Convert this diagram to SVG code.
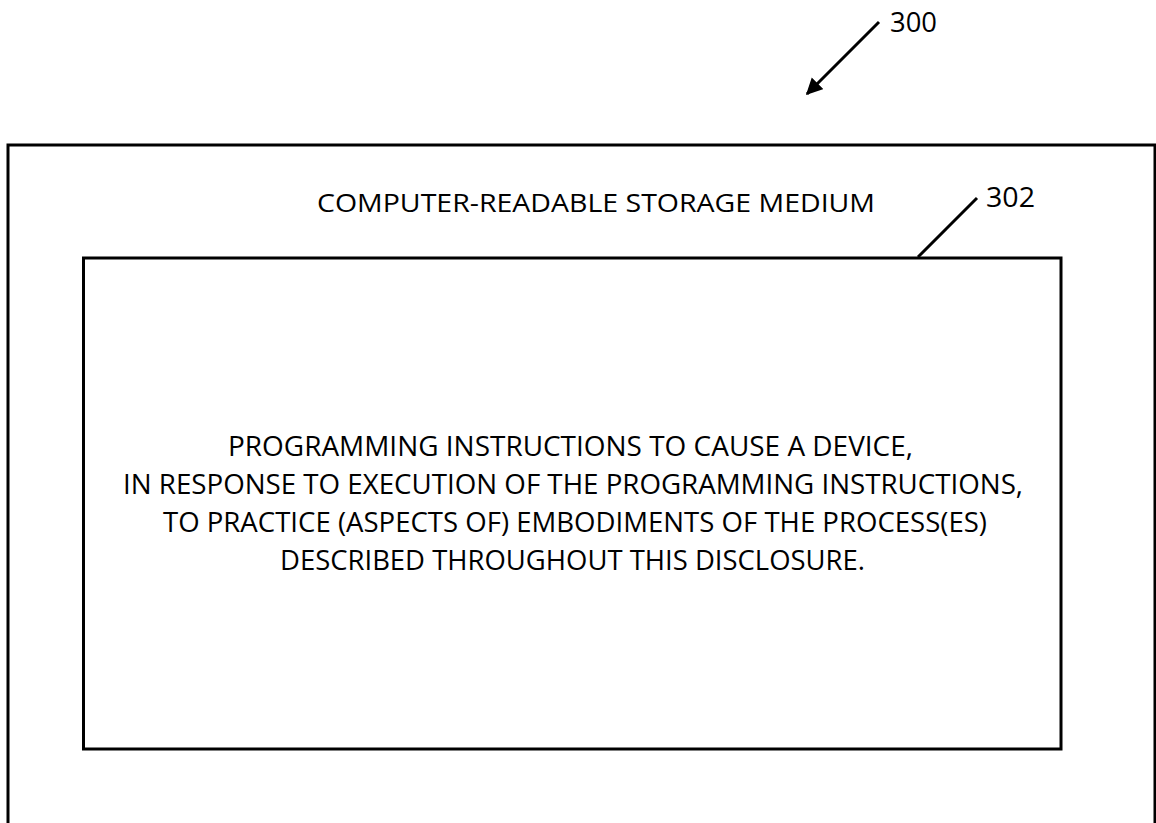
<svg xmlns="http://www.w3.org/2000/svg" width="1156" height="823" viewBox="0 0 1156 823">
<style>
.box{fill:none;stroke:#000;stroke-width:3}
.ld{fill:none;stroke:#000;stroke-width:3}
text{font-family:"Open Sans","Liberation Sans",sans-serif;fill:#000}
.t{font-size:25px;text-anchor:middle}
.b{font-size:27px;text-anchor:middle}
.r{font-size:27px}
</style>
<defs>
<marker id="ah" markerWidth="7" markerHeight="7" refX="5" refY="2.75" orient="auto" markerUnits="strokeWidth">
<path d="M0,0 L5.5,2.75 L0,5.5 z" fill="#000"/>
</marker>
</defs>
<rect width="1156" height="823" fill="#fff"/>
<g id="medium">
<path class="box" d="M8,830 V145 H1155 V830"/>
<text class="t" x="596" y="212" textLength="558" lengthAdjust="spacingAndGlyphs">COMPUTER-READABLE STORAGE MEDIUM</text>
</g>
<g id="instructions">
<rect class="box" x="83.5" y="258" width="977.5" height="491"/>
<text class="b" x="570.5" y="456" textLength="685" lengthAdjust="spacingAndGlyphs">PROGRAMMING INSTRUCTIONS TO CAUSE A DEVICE,</text>
<text class="b" x="573" y="494" textLength="900" lengthAdjust="spacingAndGlyphs">IN RESPONSE TO EXECUTION OF THE PROGRAMMING INSTRUCTIONS,</text>
<text class="b" x="575" y="532" textLength="824" lengthAdjust="spacingAndGlyphs">TO PRACTICE (ASPECTS OF) EMBODIMENTS OF THE PROCESS(ES)</text>
<text class="b" x="572.5" y="570" textLength="585" lengthAdjust="spacingAndGlyphs">DESCRIBED THROUGHOUT THIS DISCLOSURE.</text>
</g>
<g id="connectors">
<line class="ld" x1="879" y1="22" x2="807" y2="94" marker-end="url(#ah)"/>
<line class="ld" x1="918" y1="257" x2="977" y2="198"/>
</g>
<g id="labels">
<text class="r" x="890" y="32" textLength="47" lengthAdjust="spacingAndGlyphs">300</text>
<text class="r" x="986" y="207" textLength="49" lengthAdjust="spacingAndGlyphs">302</text>
</g>
</svg>
